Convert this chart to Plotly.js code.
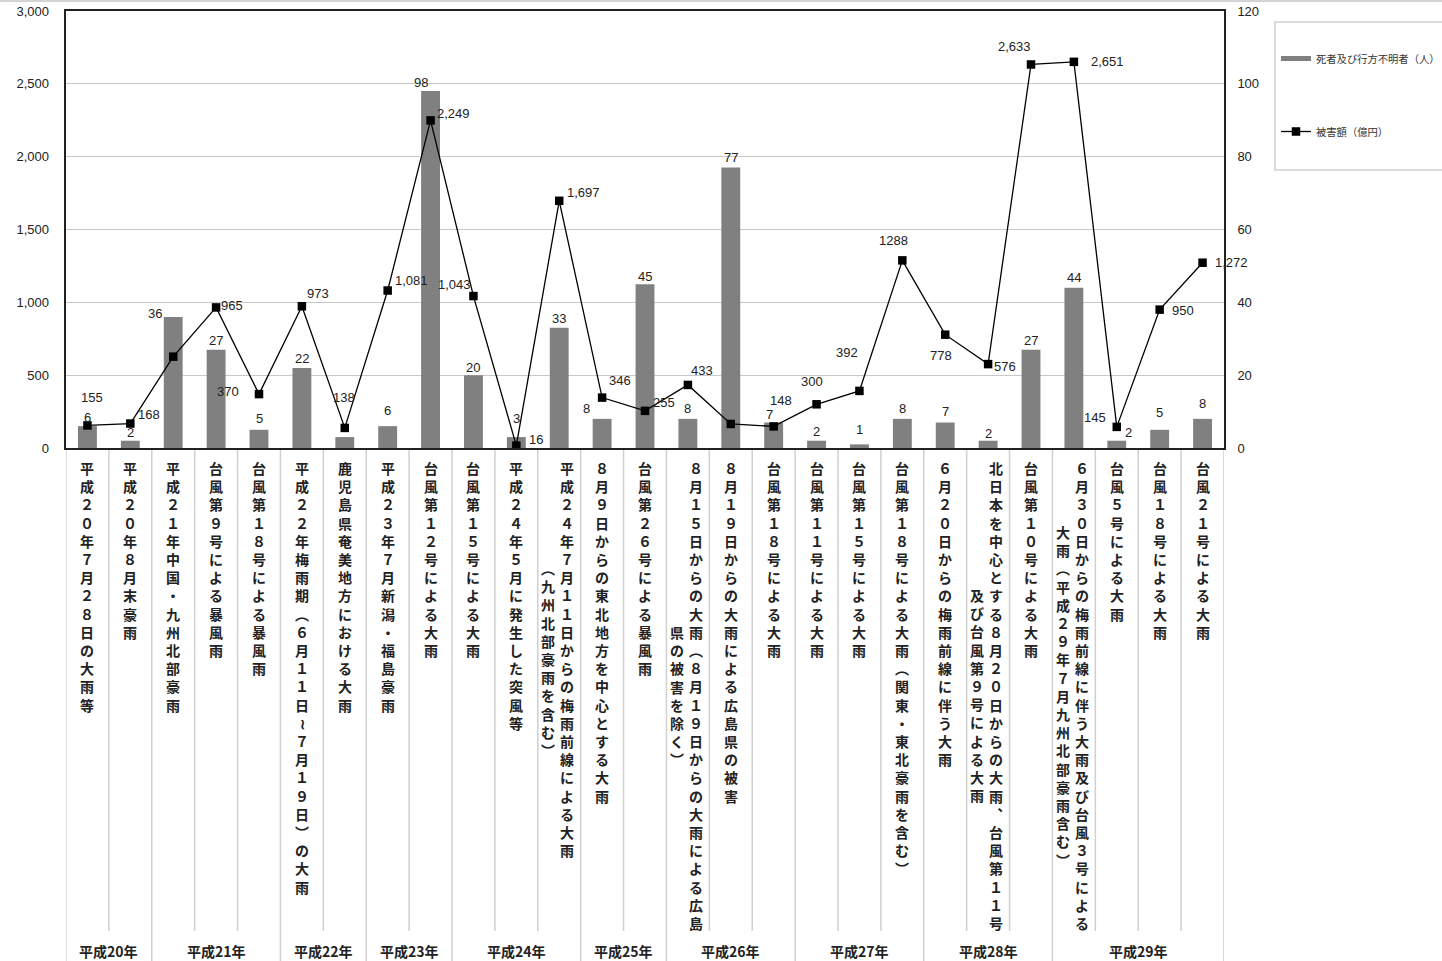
<!DOCTYPE html>
<html>
<head>
<meta charset="utf-8">
<script src="https://cdn.plot.ly/plotly-3.0.1.min.js"></script>
<style>
html,body{margin:0;padding:0;background:#fff;overflow:hidden;}
#chart{width:1442px;height:961px;}
</style>
</head>
<body>
<div id="chart"></div>
<script>
// ---------- data ----------
// category labels ("\n" marks where the vertical label wraps into a second column)
const categories = [
  "平成２０年７月２８日の大雨等",
  "平成２０年８月末豪雨",
  "平成２１年中国・九州北部豪雨",
  "台風第９号による暴風雨",
  "台風第１８号による暴風雨",
  "平成２２年梅雨期（６月１１日～７月１９日）の大雨",
  "鹿児島県奄美地方における大雨",
  "平成２３年７月新潟・福島豪雨",
  "台風第１２号による大雨",
  "台風第１５号による大雨",
  "平成２４年５月に発生した突風等",
  "平成２４年７月１１日からの梅雨前線による大雨\n（九州北部豪雨を含む）",
  "８月９日からの東北地方を中心とする大雨",
  "台風第２６号による暴風雨",
  "８月１５日からの大雨（８月１９日からの大雨による広島\n県の被害を除く）",
  "８月１９日からの大雨による広島県の被害",
  "台風第１８号による大雨",
  "台風第１１号による大雨",
  "台風第１５号による大雨",
  "台風第１８号による大雨（関東・東北豪雨を含む）",
  "６月２０日からの梅雨前線に伴う大雨",
  "北日本を中心とする８月２０日からの大雨、台風第１１号\n及び台風第９号による大雨",
  "台風第１０号による大雨",
  "６月３０日からの梅雨前線に伴う大雨及び台風３号による\n大雨（平成２９年７月九州北部豪雨含む）",
  "台風５号による大雨",
  "台風１８号による大雨",
  "台風２１号による大雨"
];
// 死者及び行方不明者（人） - bars, right axis
const deaths = [6,2,36,27,5,22,3,6,98,20,3,33,8,45,8,77,7,2,1,8,7,2,27,44,2,5,8];
// 被害額（億円） - line, left axis
const damage = [155,168,627,965,370,973,138,1081,2249,1043,16,1697,346,255,433,165,148,300,392,1288,778,576,2633,2651,145,950,1272];
const damageLabels = ["155","168","","965","370","973","138","1,081","2,249","1,043","16","1,697","346","255","433","","148","300","392","1288","778","576","2,633","2,651","145","950","1,272"];
const yearGroups = ["平成20年","平成21年","平成22年","平成23年","平成24年","平成25年","平成26年","平成27年","平成28年","平成29年"];
const yearGroupSizes = [2,3,2,2,3,2,3,3,3,4];
const seriesNames = ["死者及び行方不明者（人）","被害額（億円）"];

// ---------- styles ----------
const damageLabelOffsets = [[5,-28],[19,-9],null,[16,-2],[-31,-3],[16,-13],[-1,-30],[24,-10],[23,-7],[-19,-12],[20,-6],[24,-8],[18,-17],[19,-8],[14,-14],null,[7,-26],[-5,-23],[-12,-38],[-9,-20],[-4,21],[17,2],[-17,-18],[34,0],[-22,-9],[23,1],[29,0]];
const deathLabelOffsets = [[0,-8.5],[0,-8],[-18,-3],[0,-9],[0,-11],[0,-9],null,[0,-16],[-10,-9],[0,-8],[0,-19],[0,-9],[-16,-10],[0,-8],[0,-10],[0,-10],[-4,-8],[0,-9],[0,-15],[0,-10],[0,-11],[0,-7],[0,-9],[0,-10],[12,-8],[0,-17],[0,-15]];

const NUM_FONT = "Liberation Sans, Arial, sans-serif";
const JP_FONT = "Noto Sans CJK JP, sans-serif";
const TXT = "#222";
const PLOT_TOP = 11, PLOT_BOTTOM = 448, PLOT_H = PLOT_BOTTOM - PLOT_TOP;
const py = p => (PLOT_BOTTOM - p) / PLOT_H;   // pixel row -> paper y
const PLOT_L = 66, PLOT_R = 1224, PLOT_W = PLOT_R - PLOT_L;
const px = p => (p - PLOT_L) / PLOT_W;        // pixel col -> paper x

const idx = categories.map((_, i) => i);

const traces = [
  {
    type: "bar", x: idx, y: deaths, yaxis: "y", name: seriesNames[0],
    marker: {color: "#808080"}, width: 0.44, showlegend: false,
    hoverinfo: "y"
  },
  {
    type: "scatter", mode: "lines", x: [null], y: [null], yaxis: "y",
    name: seriesNames[0], legendgroup: "g1",
    line: {color: "#808080", width: 5}
  },
  {
    type: "scatter", mode: "lines+markers", x: idx, y: damage, yaxis: "y2",
    name: seriesNames[1], legendgroup: "g2",
    line: {color: "#000", width: 1.3},
    marker: {symbol: "square", size: 8.5, color: "#000"},
    cliponaxis: false
  }
];

const annotations = [];
const shapes = [];

// vertical category labels
const vmap = {"（":"︵","）":"︶","～":"≀","、":"︑"};
const vert = s => Array.from(s).map(c => vmap[c] || c).join("<br>");
const LINE_H = 14 * 1.3;
categories.forEach((label, i) => {
  const cols = label.split("\n");
  const n1 = Array.from(cols[0]).length;
  cols.forEach((col, k) => {
    const n = Array.from(col).length;
    annotations.push({
      xref: "x", x: i, yref: "paper", y: 0, xanchor: "center", yanchor: "top",
      xshift: cols.length > 1 ? (k === 0 ? 8 : -11) : 0,
      yshift: -8 - (n1 - n) / 2 * LINE_H,
      text: vert(col), showarrow: false, align: "center",
      font: {family: JP_FONT, size: 14, color: TXT, weight: "bold"}
    });
  });
});

// year group labels and separators
let start = 0;
const boundaries = new Set([0]);
yearGroups.forEach((g, k) => {
  const n = yearGroupSizes[k];
  annotations.push({
    xref: "x", x: start + (n - 1) / 2, yref: "paper", y: py(951),
    xanchor: "center", yanchor: "middle", text: g, showarrow: false,
    font: {family: JP_FONT, size: 14, color: TXT, weight: "bold"}
  });
  start += n;
  boundaries.add(start);
});
for (let b = 0; b <= categories.length; b++) {
  const long = boundaries.has(b);
  shapes.push({
    type: "line", xref: "x", yref: "paper", x0: b - 0.5, x1: b - 0.5,
    y0: 0, y1: long ? py(961) : py(931),
    line: {color: "#d0d0d0", width: 1.5}, layer: "below"
  });
}

// bar value labels
deaths.forEach((v, i) => {
  const o = deathLabelOffsets[i];
  if (!o) return;
  annotations.push({
    xref: "x", yref: "y", x: i, y: v, xanchor: "center", yanchor: "middle",
    xshift: o[0], yshift: -o[1], text: String(v), showarrow: false,
    font: {family: NUM_FONT, size: 13, color: TXT}
  });
});
// line value labels
damage.forEach((v, i) => {
  const o = damageLabelOffsets[i];
  if (!o || !damageLabels[i]) return;
  annotations.push({
    xref: "x", yref: "y2", x: i, y: v, xanchor: "center", yanchor: "middle",
    xshift: o[0], yshift: -o[1], text: damageLabels[i], showarrow: false,
    font: {family: NUM_FONT, size: 13, color: TXT}
  });
});

// legend frame and top page rule
shapes.push({type: "rect", xref: "paper", yref: "paper", x0: px(1275), x1: px(1446), y0: py(170), y1: py(22),
  line: {color: "#d0d0d0", width: 1.5}, fillcolor: "rgba(0,0,0,0)"});
shapes.push({type: "line", xref: "paper", yref: "paper", x0: px(0), x1: px(1442), y0: py(1), y1: py(1),
  line: {color: "#d4d4d4", width: 2}});

const layout = {
  width: 1442, height: 961,
  margin: {l: PLOT_L, r: 1442 - PLOT_R, t: PLOT_TOP, b: 961 - PLOT_BOTTOM, pad: 0, autoexpand: false},
  paper_bgcolor: "#fff", plot_bgcolor: "#fff",
  showlegend: true,
  legend: {
    x: px(1276), xanchor: "left", y: py(44), yanchor: "top",
    bgcolor: "rgba(0,0,0,0)", borderwidth: 0,
    font: {family: JP_FONT, size: 10.3, color: "#333"},
    traceorder: "grouped", tracegroupgap: 54
  },
  xaxis: {
    range: [-0.5, categories.length - 0.5], showticklabels: false, ticks: "",
    showgrid: false, zeroline: false, showline: true, mirror: true,
    linecolor: "#222", linewidth: 1.8, fixedrange: true
  },
  yaxis: {
    range: [0, 120], dtick: 20, side: "right", showgrid: true,
    gridcolor: "#c8c8c8", gridwidth: 1.3, zeroline: false,
    showline: true, mirror: true, linecolor: "#222", linewidth: 1.8,
    ticks: "", ticklabelstandoff: 9,
    tickfont: {family: NUM_FONT, size: 13, color: TXT}, fixedrange: true
  },
  yaxis2: {
    range: [0, 3000], dtick: 500, tickformat: ",d", overlaying: "y", side: "left",
    showgrid: false, zeroline: false, showline: false, ticks: "",
    ticklabelstandoff: 16,
    tickfont: {family: NUM_FONT, size: 13, color: TXT}, fixedrange: true
  },
  annotations: annotations,
  shapes: shapes,
  bargap: 0.5
};

Plotly.newPlot("chart", traces, layout, {displayModeBar: false, staticPlot: true});
</script>
</body>
</html>
